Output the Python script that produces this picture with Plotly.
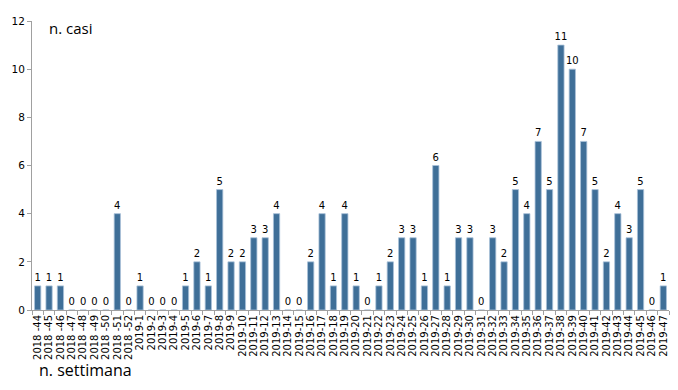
import plotly.graph_objects as go

weeks_2018 = ["2018 -44", "2018 -45", "2018 -46", "2018 -47", "2018 -48", "2018 -49", "2018 -50", "2018 -51", "2018 -52"]
weeks_2019 = [f"2019-{i}" for i in range(1, 48)]
categories = weeks_2018 + weeks_2019

values_2018 = [1, 1, 1, 0, 0, 0, 0, 4, 0]
values_2019 = [1, 0, 0, 0, 1, 2, 1, 5, 2, 2,
               3, 3, 4, 0, 0, 2, 4, 1, 4, 1,
               0, 1, 2, 3, 3, 1, 6, 1, 3, 3,
               0, 3, 2, 5, 4, 7, 5, 11, 10, 7,
               5, 2, 4, 3, 5, 0, 1]
values = values_2018 + values_2019

y_ticks = [0, 2, 4, 6, 8, 10, 12]

fig = go.Figure(go.Bar(
    x=categories, y=values,
    marker=dict(color="#3F6F98", line=dict(color="#A9C1D9", width=0.8)),
    text=[str(v) for v in values], textposition="outside",
    textfont=dict(family="DejaVu Sans", size=10, color="#000000"),
    cliponaxis=False,
))

fig.update_layout(
    width=678, height=390,
    margin=dict(l=32, r=9, t=21, b=80),
    plot_bgcolor="white", paper_bgcolor="white",
    bargap=0.45, showlegend=False,
    uniformtext=dict(minsize=10, mode="show"),
    xaxis=dict(type="category", tickangle=-90, tickson="boundaries",
               tickmode="array", tickvals=categories, ticktext=categories,
               range=[-0.5, len(categories) - 0.5], automargin=False,
               ticks="outside", ticklen=4, tickcolor="#A0A0A0",
               showline=True, linecolor="#A0A0A0", linewidth=1,
               showgrid=False,
               tickfont=dict(family="DejaVu Sans", size=10, color="#000000")),
    yaxis=dict(range=[0, 12], tickvals=y_ticks, ticks="outside", ticklen=4,
               automargin=False,
               tickcolor="#A0A0A0", showline=True, linecolor="#A0A0A0",
               linewidth=1, showgrid=False, zeroline=False,
               tickfont=dict(family="DejaVu Sans", size=10.5, color="#000000")),
    annotations=[
        dict(text="n. casi", xref="paper", yref="paper", x=0.024, y=0.977,
             xanchor="left", yanchor="middle", showarrow=False,
             font=dict(family="Open Sans", size=15, color="#000000")),
        dict(text="n. settimana", xref="paper", yref="paper", x=0.008, y=-0.208,
             xanchor="left", yanchor="middle", showarrow=False,
             font=dict(family="Open Sans", size=16, color="#000000")),
    ],
)

fig.write_html("out.html", config={"displayModeBar": False},
               post_script="document.body.style.margin='0';document.body.style.overflow='hidden';")
